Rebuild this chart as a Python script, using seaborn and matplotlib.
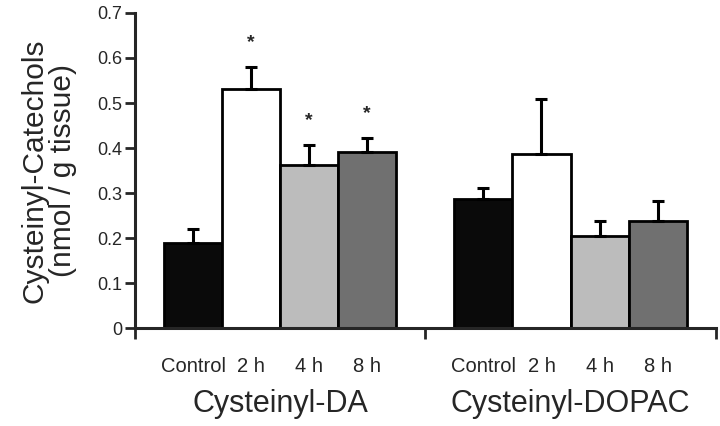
import matplotlib
matplotlib.use('Agg')
import matplotlib.pyplot as plt
import numpy as np
import pandas as pd
import seaborn as sns

# data
groups = ['Cysteinyl-DA', 'Cysteinyl-DOPAC']
conditions = ['Control', '2 h', '4 h', '8 h']
means_da = [0.189, 0.532, 0.362, 0.391]
errs_da = [0.032, 0.047, 0.045, 0.031]
means_dopac = [0.287, 0.387, 0.204, 0.238]
errs_dopac = [0.024, 0.122, 0.034, 0.045]
signif_da = [False, True, True, True]
signif_dopac = [False, False, False, False]

colors = {'Control': '#0a0a0a', '2 h': '#ffffff', '4 h': '#bcbcbc', '8 h': '#707070'}

pos = list(range(0, 4)) + list(range(5, 9))
df = pd.DataFrame({
    'pos': pos,
    'Condition': conditions * 2,
    'Value': means_da + means_dopac,
    'Err': errs_da + errs_dopac,
    'Sig': signif_da + signif_dopac,
})

sns.set_style('ticks')
plt.rcParams['font.family'] = ['Liberation Sans', 'DejaVu Sans']

fig = plt.figure(figsize=(7.2, 4.26), dpi=100)
ax = fig.add_axes([0.1875, 0.23, 0.8065, 0.7395])

sns.barplot(data=df, x='pos', y='Value', hue='Condition', palette=colors,
            native_scale=True, width=1.0, dodge=False, legend=False,
            edgecolor='black', linewidth=2, errorbar=None, ax=ax)

# upper error bars only
ax.errorbar(df['pos'], df['Value'], yerr=[np.zeros(len(df)), df['Err']],
            fmt='none', ecolor='black', elinewidth=2.2, capsize=4, capthick=2.2, zorder=1)

# significance stars
for _, r in df[df['Sig']].iterrows():
    ax.text(r['pos'], r['Value'] + r['Err'] + 0.055, '*', ha='center', va='center',
            fontsize=14, fontweight='bold')

ax.set_xlim(-1, 9)
ax.set_ylim(0, 0.7)
ax.set_yticks(np.arange(0, 0.71, 0.1))
ax.set_yticklabels(['0', '0.1', '0.2', '0.3', '0.4', '0.5', '0.6', '0.7'], fontsize=13)
ax.set_xticks([-1, 4, 9])
ax.set_xticklabels([])
ax.set_xticks(pos, minor=True)
ax.set_xticklabels(conditions * 2, minor=True, fontsize=14.5)
ax.tick_params(axis='x', which='minor', length=0, pad=21)
ax.tick_params(axis='x', which='major', length=8, width=2, direction='out')
ax.tick_params(axis='y', length=7, width=2, direction='out', pad=2)
for s in ['top', 'right']:
    ax.spines[s].set_visible(False)
for s in ['left', 'bottom']:
    ax.spines[s].set_linewidth(2.2)

ax.set_xlabel('')
ax.set_ylabel('Cysteinyl-Catechols\n(nmol / g tissue)', fontsize=21.5, labelpad=15, linespacing=0.98)

for i, g in enumerate(groups):
    ax.text(1.5 + 5 * i, -0.168, g, ha='center', va='center', fontsize=22,
            transform=ax.transData)

fig.savefig('out.png', dpi=100)
